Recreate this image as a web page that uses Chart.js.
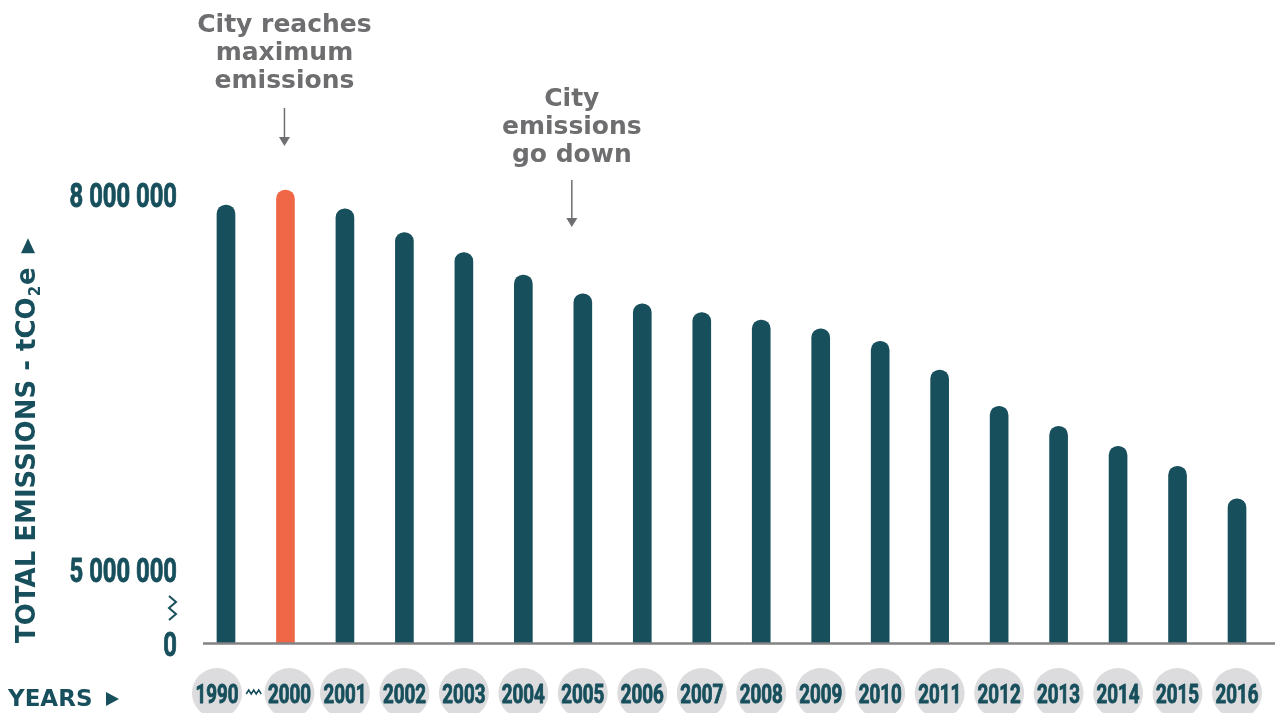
<!DOCTYPE html>
<html>
<head>
<meta charset="utf-8">
<script src="https://cdn.jsdelivr.net/npm/chart.js@4/dist/chart.umd.min.js"></script>
<style>
  html, body { margin: 0; padding: 0; background: #ffffff; }
  #wrap { width: 1275px; height: 713px; position: relative; }
</style>
</head>
<body>
<div id="wrap"><canvas id="c"></canvas></div>
<script>
// ---- data ----
const years = ['1990','2000','2001','2002','2003','2004','2005','2006','2007','2008','2009','2010','2011','2012','2013','2014','2015','2016'];
const emissions = [7920000, 8040000, 7890000, 7700000, 7540000, 7360000, 7210000, 7130000, 7060000, 7000000, 6930000, 6830000, 6600000, 6310000, 6150000, 5990000, 5830000, 5570000];
const peakYear = '2000';
const yTicks = [0, 5000000, 8000000];
const yBreakValue = 5000000;
const annotations = [
  { year: '2000', lines: ['City reaches', 'maximum', 'emissions'] },
  { year: '2005', lines: ['City', 'emissions', 'go down'] }
];

// ---- styles ----
const TEAL = '#174f5c';
const ORANGE = '#f06747';
const GREY_TXT = '#6e6e70';
const CIRCLE = '#dcdcde';
const AXIS = '#838383';
const NUM_FONT = "Roboto, 'Liberation Sans', sans-serif";
const BOLD_FONT = "'DejaVu Sans', 'Open Sans', sans-serif";

// Broken linear scale: values below the break are squeezed into a short gap
class BrokenLinearScale extends Chart.LinearScale {
  buildTicks() { return yTicks.map(v => ({ value: v })); }
  getPixelForValue(value) {
    if (value === null || value === undefined || isNaN(value)) return NaN;
    const brk = this.options.breakAt, gap = this.options.breakGap;
    const bottom = this.bottom, top = this.top;
    if (value <= brk) return bottom - (value - this.min) / (brk - this.min) * gap;
    return bottom - gap - (value - brk) / (this.max - brk) * (bottom - gap - top);
  }
  getValueForPixel(pixel) {
    const brk = this.options.breakAt, gap = this.options.breakGap;
    const bottom = this.bottom, top = this.top;
    if (pixel >= bottom - gap) return this.min + (bottom - pixel) / gap * (brk - this.min);
    return brk + (bottom - gap - pixel) / (bottom - gap - top) * (this.max - brk);
  }
}
BrokenLinearScale.id = 'brokenLinear';
BrokenLinearScale.defaults = {};
Chart.register(BrokenLinearScale);

function fmt(v) { return String(v).replace(/\B(?=(\d{3})+(?!\d))/g, ' '); }

// small visual nudges of the first two year badges (room for the break mark)
const badgeNudge = [-9, 4];

function condensedText(ctx, text, x, y, sx, align) {
  ctx.save();
  ctx.translate(x, y);
  ctx.scale(sx, 1);
  ctx.textAlign = align;
  ctx.textBaseline = 'alphabetic';
  ctx.lineWidth = 0.9;
  ctx.lineJoin = 'round';
  ctx.fillText(text, 0, 0);
  ctx.strokeText(text, 0, 0);
  ctx.restore();
}

const decorPlugin = {
  id: 'decor',
  beforeDraw(chart) {
    const ctx = chart.ctx;
    const xs = chart.scales.x;
    ctx.save();
    ctx.fillStyle = CIRCLE;
    xs.ticks.forEach((t, i) => {
      const px = xs.getPixelForTick(i) + (badgeNudge[i] || 0);
      ctx.beginPath();
      ctx.arc(px, 693, 25, 0, Math.PI * 2);
      ctx.fill();
    });
    ctx.restore();
  },
  afterDraw(chart) {
    const ctx = chart.ctx;
    const xs = chart.scales.x, ys = chart.scales.y;
    const area = chart.chartArea;
    ctx.save();

    // x tick labels (condensed numerals)
    ctx.fillStyle = TEAL;
    ctx.strokeStyle = TEAL;
    ctx.font = "bold 25px " + NUM_FONT;
    xs.ticks.forEach((t, i) => {
      const px = xs.getPixelForTick(i) + (badgeNudge[i] || 0);
      const label = t.label !== undefined ? t.label : xs.getLabelForValue(t.value);
      condensedText(ctx, String(label), px, 703, 0.75, 'center');
    });

    // y tick labels
    ctx.font = "bold 34px " + NUM_FONT;
    ys.ticks.forEach((t, i) => {
      const py = ys.getPixelForTick(i);
      const label = t.label !== undefined ? t.label : fmt(t.value);
      condensedText(ctx, String(label), 177, py + 12, 0.70, 'right');
    });

    // x axis line
    ctx.strokeStyle = AXIS;
    ctx.lineWidth = 2.6;
    ctx.beginPath();
    ctx.moveTo(203, area.bottom);
    ctx.lineTo(1275, area.bottom);
    ctx.stroke();

    // y-axis break squiggle
    const yb0 = ys.getPixelForValue(yBreakValue) + 26;
    ctx.strokeStyle = TEAL;
    ctx.lineWidth = 2;
    ctx.lineJoin = 'miter';
    ctx.beginPath();
    ctx.moveTo(169, yb0);
    ctx.lineTo(176, yb0 + 6);
    ctx.lineTo(169, yb0 + 12);
    ctx.lineTo(176, yb0 + 18);
    ctx.lineTo(169, yb0 + 24);
    ctx.stroke();

    // x-axis break squiggle between first two badges
    const xmid = (xs.getPixelForTick(0) + badgeNudge[0] + xs.getPixelForTick(1) + badgeNudge[1]) / 2;
    ctx.lineWidth = 1.5;
    ctx.beginPath();
    ctx.moveTo(xmid - 7, 694);
    ctx.lineTo(xmid - 4.5, 690);
    ctx.lineTo(xmid - 2, 694);
    ctx.lineTo(xmid + 0.5, 690);
    ctx.lineTo(xmid + 3, 694);
    ctx.lineTo(xmid + 5.5, 690);
    ctx.lineTo(xmid + 8, 694);
    ctx.stroke();

    // Y axis title (rotated)
    ctx.save();
    ctx.translate(35, 643);
    ctx.rotate(-Math.PI / 2);
    ctx.fillStyle = TEAL;
    ctx.textBaseline = 'alphabetic';
    ctx.textAlign = 'left';
    ctx.font = "bold 26px " + BOLD_FONT;
    const part1 = 'TOTAL EMISSIONS - tCO';
    ctx.fillText(part1, 0, 0);
    let w = ctx.measureText(part1).width;
    ctx.font = "bold 15px " + BOLD_FONT;
    ctx.fillText('2', w + 1, 5);
    w += ctx.measureText('2').width + 2;
    ctx.font = "bold 26px " + BOLD_FONT;
    ctx.fillText('e', w, 0);
    w += ctx.measureText('e').width + 14;
    ctx.beginPath();
    ctx.moveTo(w, -14);
    ctx.lineTo(w, 0);
    ctx.lineTo(w + 15, -7);
    ctx.closePath();
    ctx.fill();
    ctx.restore();

    // YEARS label
    ctx.fillStyle = TEAL;
    ctx.font = "bold 23px " + BOLD_FONT;
    ctx.textAlign = 'left';
    ctx.textBaseline = 'alphabetic';
    ctx.fillText('YEARS', 8, 706);
    ctx.beginPath();
    ctx.moveTo(106, 692);
    ctx.lineTo(106, 706);
    ctx.lineTo(119, 699);
    ctx.closePath();
    ctx.fill();

    // annotations
    const offsets = [-1, -11];
    const baseTops = [32, 106];
    const arrowSpans = [[108, 146], [180, 227]];
    ctx.fillStyle = GREY_TXT;
    ctx.strokeStyle = GREY_TXT;
    ctx.textAlign = 'center';
    ctx.font = "bold 25px " + BOLD_FONT;
    annotations.forEach((a, k) => {
      const px = xs.getPixelForValue(years.indexOf(a.year)) + offsets[k];
      a.lines.forEach((ln, j) => ctx.fillText(ln, px, baseTops[k] + j * 28));
      const [y0, y1] = arrowSpans[k];
      ctx.lineWidth = 1.5;
      ctx.beginPath();
      ctx.moveTo(px, y0);
      ctx.lineTo(px, y1 - 8);
      ctx.stroke();
      ctx.beginPath();
      ctx.moveTo(px - 5.5, y1 - 9);
      ctx.lineTo(px + 5.5, y1 - 9);
      ctx.lineTo(px, y1);
      ctx.closePath();
      ctx.fill();
    });
    ctx.restore();
  }
};

new Chart(document.getElementById('c'), {
  type: 'bar',
  data: {
    labels: years,
    datasets: [{
      data: emissions,
      backgroundColor: years.map(y => y === peakYear ? ORANGE : TEAL),
      barThickness: 18,
      borderRadius: 9,
      borderSkipped: 'start'
    }]
  },
  options: {
    responsive: true,
    maintainAspectRatio: false,
    animation: false,
    events: [],
    layout: { padding: { top: 182.5, left: 0, right: 8.25, bottom: 0 } },
    plugins: { legend: { display: false }, tooltip: { enabled: false }, title: { display: false } },
    scales: {
      x: {
        type: 'category',
        offset: true,
        grid: { display: false, drawTicks: false },
        border: { display: false },
        ticks: { display: false, autoSkip: false, maxRotation: 0 },
        afterFit(s) { s.height = 69.5; }
      },
      y: {
        type: 'brokenLinear',
        min: 0,
        max: 8100000,
        breakAt: yBreakValue,
        breakGap: 73.5,
        grid: { display: false, drawTicks: false },
        border: { display: false },
        ticks: { display: false, callback: v => fmt(v) },
        afterFit(s) { s.width = 196.25; }
      }
    }
  },
  plugins: [decorPlugin]
});
</script>
</body>
</html>
